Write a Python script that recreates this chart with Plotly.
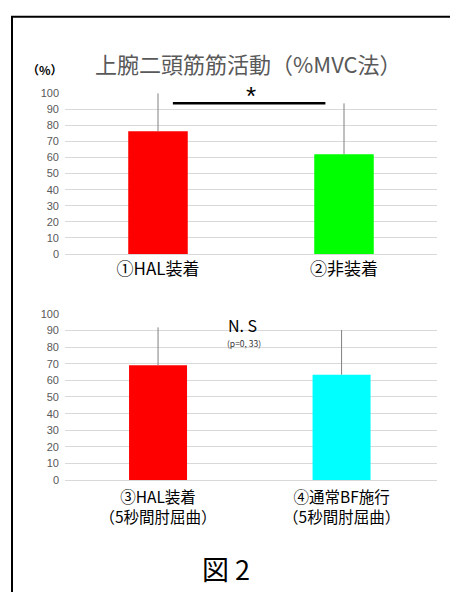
import plotly.graph_objects as go

# Data
top_categories = ["①HAL装着", "②非装着"]
top_values = [76.3, 62.0]
top_errors = [23.7, 31.7]

bottom_categories = ["③HAL装着<br>（5秒間肘屈曲）", "④通常BF施行<br>（5秒間肘屈曲）"]
bottom_values = [69.1, 63.4]
bottom_errors = [22.7, 26.8]

top_colors = ["#FF0000", "#00FF00"]
bottom_colors = ["#FF0000", "#00FFFF"]
y_ticks = [0, 10, 20, 30, 40, 50, 60, 70, 80, 90, 100]

W, H = 450, 598
FONT = "Noto Sans CJK JP"

def px(x):
    return x / W

def py(y):
    return 1 - y / H

fig = go.Figure()

fig.add_trace(go.Bar(
    x=[0, 1], y=top_values, width=0.32,
    marker=dict(color=top_colors, line=dict(width=0)),
    error_y=dict(type="data", array=top_errors, arrayminus=[0, 0], symmetric=False,
                 color="#808080", thickness=1, width=0),
    xaxis="x", yaxis="y", showlegend=False,
))
fig.add_trace(go.Bar(
    x=[0, 1], y=bottom_values, width=0.316,
    marker=dict(color=bottom_colors, line=dict(width=0)),
    error_y=dict(type="data", array=bottom_errors, arrayminus=[0, 0], symmetric=False,
                 color="#808080", thickness=1, width=0),
    xaxis="x2", yaxis="y2", showlegend=False,
))

yax = dict(range=[0, 100], tickvals=y_ticks, showgrid=True, gridcolor="#D9D9D9", gridwidth=1,
           zeroline=False, showline=False, ticks="",
           tickfont=dict(family="Liberation Sans, Arial", size=11, color="#595959"),
           ticklabelstandoff=5, fixedrange=True)

fig.update_layout(
    width=W, height=H,
    margin=dict(l=0, r=0, t=0, b=0),
    paper_bgcolor="white", plot_bgcolor="white",
    font=dict(family=FONT),
    xaxis=dict(domain=[px(65), px(437)], range=[-0.5, 1.5], anchor="y",
               tickvals=[0, 1], ticktext=top_categories, ticks="", showgrid=False,
               showline=True, linecolor="#D9D9D9", linewidth=1, zeroline=False,
               tickfont=dict(family=FONT, size=17, color="#000000"), ticklabelstandoff=0,
               fixedrange=True),
    yaxis=dict(domain=[py(253), py(89)], anchor="x", **yax),
    xaxis2=dict(domain=[px(65), px(437)], range=[-0.507, 1.52], anchor="y2",
                tickvals=[0, 1], ticktext=bottom_categories, ticks="", showgrid=False,
                showline=True, linecolor="#D9D9D9", linewidth=1, zeroline=False,
                tickfont=dict(family=FONT, size=15.5, color="#000000"), ticklabelstandoff=3,
                fixedrange=True),
    yaxis2=dict(domain=[py(484), py(314)], anchor="x2", **yax),
    bargap=0.6,
)

# significance line
fig.add_shape(type="line", xref="x", yref="y", x0=0.08, x1=0.9, y0=93.7, y1=93.7,
              line=dict(color="#000000", width=2.5))
fig.add_annotation(xref="x", yref="y", x=0.5, y=98.5, text="*", showarrow=False,
                   font=dict(family="Liberation Sans", size=26, color="#000000"),
                   xanchor="center", yanchor="middle")

# N.S annotation
fig.add_annotation(xref="paper", yref="paper", x=px(242), y=py(326), text="N. S", showarrow=False,
                   font=dict(family=FONT, size=16, color="#000000"), xanchor="center", yanchor="middle")
fig.add_annotation(xref="paper", yref="paper", x=px(244), y=py(344), text="(p=0, 33)", showarrow=False,
                   font=dict(family=FONT, size=8.5, color="#333333"), xanchor="center", yanchor="middle")

# title and unit
fig.add_annotation(xref="paper", yref="paper", x=px(248), y=py(58), text="上腕二頭筋筋活動（%MVC法）",
                   showarrow=False, font=dict(family=FONT, size=22, color="#595959"),
                   xanchor="center", yanchor="middle")
fig.add_annotation(xref="paper", yref="paper", x=px(45), y=py(65), text="<b>（%）</b>",
                   showarrow=False, font=dict(family=FONT, size=12, color="#000000"),
                   xanchor="center", yanchor="middle")

# figure label
fig.add_annotation(xref="paper", yref="paper", x=px(226), y=py(574), text="図 2",
                   showarrow=False, font=dict(family=FONT, size=27, color="#000000"),
                   xanchor="center", yanchor="middle")

# frame
fig.add_shape(type="line", xref="paper", yref="paper", x0=px(12), x1=px(12), y0=0, y1=py(11),
              line=dict(color="#000000", width=2))
fig.add_shape(type="line", xref="paper", yref="paper", x0=px(11), x1=1, y0=py(11), y1=py(11),
              line=dict(color="#000000", width=2))

fig.write_html("out.html", config={"displayModeBar": False},
               post_script="document.body.style.margin='0';document.body.style.overflow='hidden';")
